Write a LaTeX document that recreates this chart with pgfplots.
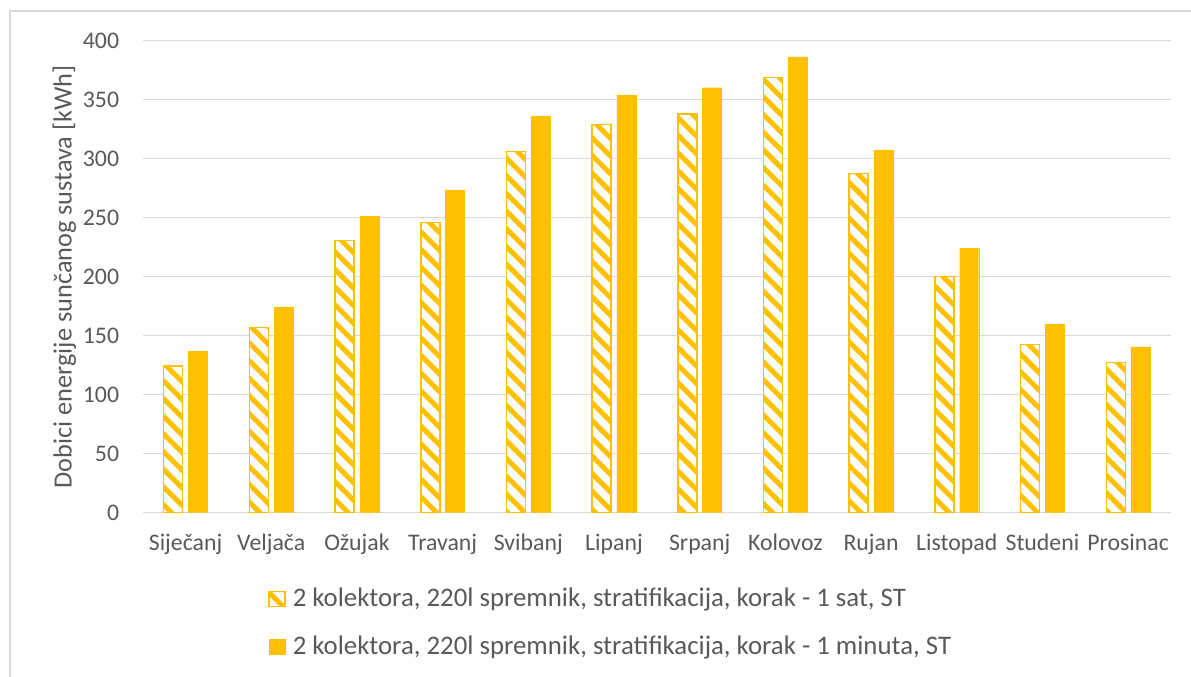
\documentclass[border=0pt]{standalone}
\usepackage{fontspec}
\setmainfont{Carlito}
\usepackage{pgfplots}
\pgfplotsset{compat=1.18}
\usetikzlibrary{patterns.meta,calc}
\definecolor{barY}{HTML}{FFC000}
\definecolor{txt}{HTML}{595959}
\definecolor{grd}{HTML}{D9D9D9}
\begin{document}
\fontsize{23.8pt}{28pt}\selectfont
\begin{tikzpicture}[x=1pt,y=1pt]
\begin{axis}[
 scale only axis, width=1028.3pt, height=472pt,
 ybar, bar width=19pt,
 xmin=-0.5, xmax=11.5, ymin=0, ymax=400,
 ytick={0,50,...,400},
 xtick={0,...,11},
 xticklabels={Siječanj,Veljača,Ožujak,Travanj,Svibanj,Lipanj,Srpanj,Kolovoz,Rujan,Listopad,Studeni,Prosinac},
 axis line style={draw=none},
 major tick length=0pt,
 ymajorgrids, grid style={grd, line width=1.3pt},
 /pgf/number format/assume math mode=true,
 tick label style={text=txt},
 yticklabel style={anchor=east, inner sep=0pt, xshift=-23.4pt},
 xticklabel style={anchor=base, inner sep=0pt, yshift=-38pt},
 ylabel={Dobici energije sunčanog sustava [kWh]},
 every axis y label/.style={at={(axis description cs:-0.069,0.5)}, anchor=base, rotate=90, text=txt, font=\fontsize{26.3pt}{30pt}\selectfont},
 legend style={at={(0.1221,-0.161)}, anchor=north west, draw=none, fill=none, inner sep=0pt, outer sep=0pt, row sep=23.5pt, column sep=7pt, font=\fontsize{26.8pt}{30pt}\selectfont, nodes={inner sep=0pt, text height=18pt, text depth=6pt, anchor=base west, text=txt}},
 legend cell align=left,
 legend image code/.code={\draw[#1] (0pt,0pt) rectangle (16pt,15.4pt);},
]
\coordinate (O) at (axis cs:-0.5,0);
\addplot[bar shift=-12.35pt, draw=barY, line width=1.5pt, fill=white,
  postaction={pattern color=barY, pattern={Lines[angle=-45,distance=12.5pt,line width=5pt]}}]
 coordinates {(0,124.3) (1,156.8) (2,230.5) (3,245.8) (4,306.3) (5,329.0) (6,337.9) (7,368.6) (8,287.3) (9,200.0) (10,142.4) (11,127.1)};
\addlegendentry{2 kolektora, 220l spremnik, stratifikacija, korak - 1 sat, ST}
\addplot[bar shift=12.35pt, draw=barY, line width=0.1pt, fill=barY]
 coordinates {(0,137.0) (1,174.0) (2,251.4) (3,273.2) (4,336.0) (5,353.7) (6,360.2) (7,386.2) (8,307.4) (9,224.3) (10,159.9) (11,140.4)};
\addlegendentry{2 kolektora, 220l spremnik, stratifikacija, korak - 1 minuta, ST}
\end{axis}
\pgfresetboundingbox
\path[use as bounding box] ($(O)+(-142.7,-164.3)$) rectangle ($(O)+(1048.3,512.7)$);
\draw[grd, line width=1.3pt] ($(O)+(-132.7,-164.3)$) -- ($(O)+(-132.7,501.7)$) -- ($(O)+(1048.3,501.7)$);
\end{tikzpicture}
\end{document}
